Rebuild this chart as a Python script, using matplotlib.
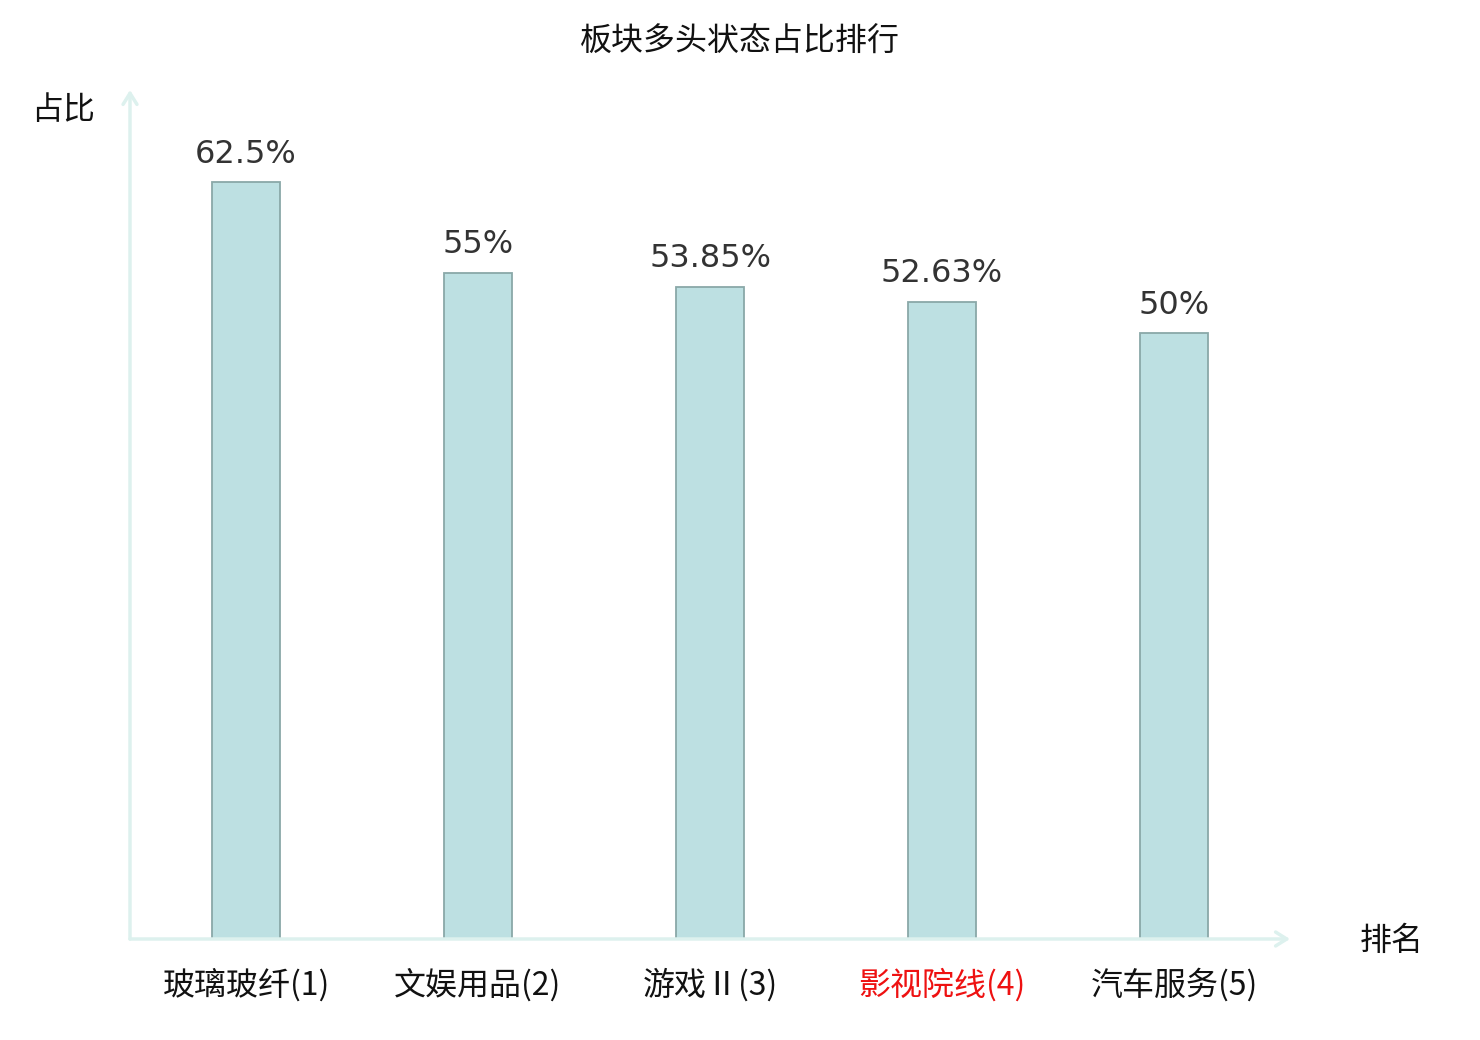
import matplotlib
matplotlib.use("Agg")
import matplotlib.pyplot as plt

plt.rcParams['font.family'] = ['Noto Sans CJK SC', 'DejaVu Sans']

categories = ["玻璃玻纤(1)", "文娱用品(2)", "游戏Ⅱ(3)", "影视院线(4)", "汽车服务(5)"]
values = [62.5, 55, 53.85, 52.63, 50]
value_labels = ["62.5%", "55%", "53.85%", "52.63%", "50%"]
label_colors = ["#111111", "#111111", "#111111", "#ee1111", "#111111"]

W, H = 1480, 1040
fig = plt.figure(figsize=(W / 100, H / 100), dpi=100)
ax = fig.add_axes([130 / W, (H - 939) / H, 1160 / W, 849 / H])

x = list(range(len(categories)))
bars = ax.bar(x, values, width=68 / 232, color="#bde0e2", edgecolor="#8aa8a8", linewidth=1.3, zorder=2)

ax.set_xlim(-0.5, len(categories) - 0.5)
ax.set_ylim(0, 70.1)

for s in ax.spines.values():
    s.set_visible(False)
ax.set_yticks([])
ax.set_xticks(x)
ax.set_xticklabels(categories, fontsize=23)
for t, c in zip(ax.get_xticklabels(), label_colors):
    t.set_color(c)
ax.tick_params(axis='x', length=0, pad=21)

axis_color = "#ddf1ee"
ax.annotate("", xy=(0, 1.0), xytext=(0, 0), xycoords='axes fraction',
            arrowprops=dict(arrowstyle="->,head_length=0.8,head_width=0.5", color=axis_color, lw=2.5,
                            shrinkA=0, shrinkB=0), annotation_clip=False)
ax.annotate("", xy=(1.0, 0), xytext=(0, 0), xycoords='axes fraction',
            arrowprops=dict(arrowstyle="->,head_length=0.8,head_width=0.5", color=axis_color, lw=2.5,
                            shrinkA=0, shrinkB=0), annotation_clip=False)

for xi, v, lab in zip(x, values, value_labels):
    ax.annotate(lab, xy=(xi, v), xytext=(0, 9), textcoords='offset points',
                ha='center', va='bottom', fontsize=23, color="#333333",
                family=['DejaVu Sans'])

fig.text(740 / W, 1 - 42 / H, "板块多头状态占比排行", ha='center', va='center', fontsize=23, color="#111111")
fig.text(63 / W, 1 - 110 / H, "占比", ha='center', va='center', fontsize=23, color="#111111")
fig.text(1392 / W, 1 - 941 / H, "排名", ha='center', va='center', fontsize=23, color="#111111")

fig.savefig("out.png", dpi=100)
